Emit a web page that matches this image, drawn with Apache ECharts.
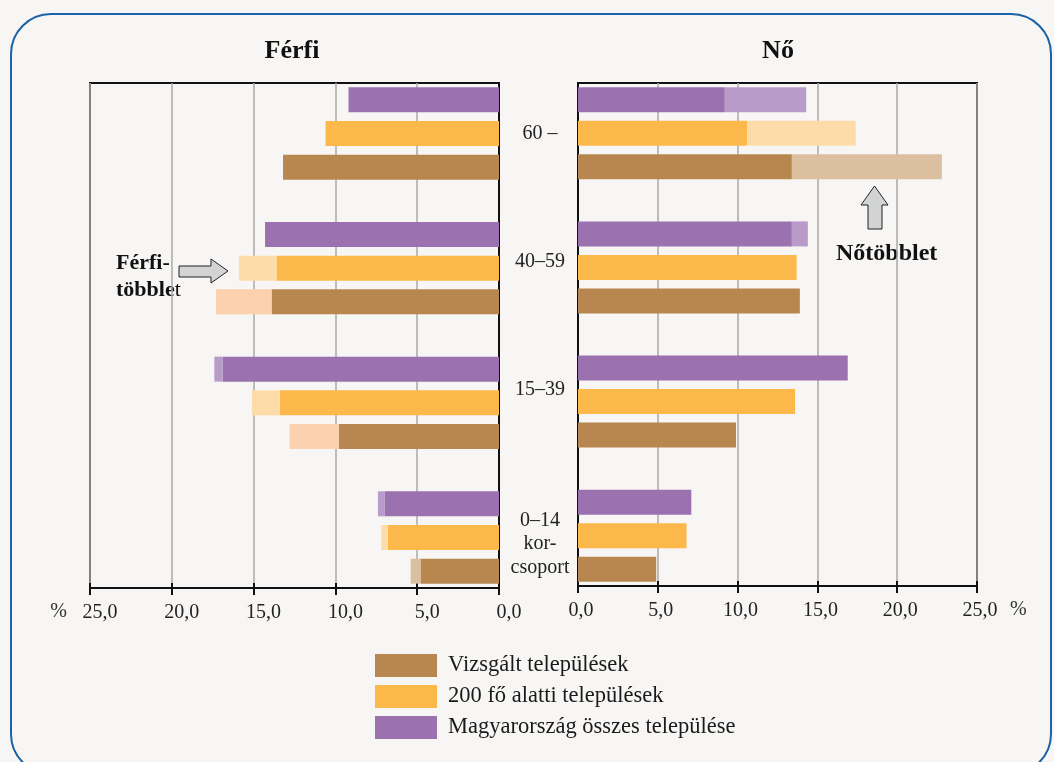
<!DOCTYPE html>
<html><head><meta charset="utf-8">
<script src="https://cdn.jsdelivr.net/npm/echarts@6/dist/echarts.min.js"></script>
<style>html,body{margin:0;padding:0;background:#f7f6f4;}#c{width:1054px;height:762px;}</style>
</head><body><div id="c"></div>
<script>
// ---- data (age groups listed top to bottom) ----
const ageGroups = ['60 –', '40–59', '15–39', '0–14'];
const seriesNames = ['Magyarország összes települése', '200 fő alatti települések', 'Vizsgált települések'];
const legendOrder = ['Vizsgált települések', '200 fő alatti települések', 'Magyarország összes települése'];
const xTickValues = [0, 5, 10, 15, 20, 25];

// Férfi (male): base part and surplus part (%)
const maleOrszag = [9.2, 14.3, 16.9, 7.0];
const maleOrszagExcess = [0, 0, 0.5, 0.4];
const maleAlatti = [10.6, 13.6, 13.4, 6.8];
const maleAlattiExcess = [0, 2.3, 1.7, 0.4];
const maleVizsgalt = [13.2, 13.9, 9.8, 4.8];
const maleVizsgaltExcess = [0, 3.4, 3.0, 0.6];

// Nő (female)
const femaleOrszag = [9.2, 13.4, 16.9, 7.1];
const femaleOrszagExcess = [5.1, 1.0, 0, 0];
const femaleAlatti = [10.6, 13.7, 13.6, 6.8];
const femaleAlattiExcess = [6.8, 0, 0, 0];
const femaleVizsgalt = [13.4, 13.9, 9.9, 4.9];
const femaleVizsgaltExcess = [9.4, 0, 0, 0];

// ---- styling ----
const FONT = "'Liberation Serif', 'DejaVu Serif', serif";
const baseColors = ['#9b71b0', '#fdb84b', '#b8864f'];
const excessColors = ['#b99bca', '#fedca9', '#dcbf9f'];
const peach = '#fcd1af';

// rows: each age group has 3 rows (one per series) + 1 spacer row
const ROWS = ageGroups.length * 4 - 1;
const rowIds = Array.from({length: ROWS}, (_, i) => 'r' + i);
function toRows(values, t) {
  const arr = new Array(ROWS).fill(null);
  values.forEach((v, g) => { arr[g * 4 + t] = v ? v : null; });
  return arr;
}

const male = [[maleOrszag, maleOrszagExcess], [maleAlatti, maleAlattiExcess], [maleVizsgalt, maleVizsgaltExcess]];
const female = [[femaleOrszag, femaleOrszagExcess], [femaleAlatti, femaleAlattiExcess], [femaleVizsgalt, femaleVizsgaltExcess]];

function panelSeries(sets, idx, stack) {
  const out = [];
  sets.forEach((pair, t) => {
    out.push({
      type: 'bar', name: seriesNames[t], xAxisIndex: idx * 2, yAxisIndex: idx, stack: stack,
      barWidth: 25, data: toRows(pair[0], t), itemStyle: {color: baseColors[t]}, silent: true
    });
    out.push({
      type: 'bar', name: seriesNames[t] + ' (többlet)', xAxisIndex: idx * 2, yAxisIndex: idx, stack: stack,
      barWidth: 25, data: toRows(pair[1], t), silent: true,
      itemStyle: {
        color: (t === 2 && idx === 0)
          ? (p => (Math.floor(p.dataIndex / 4) === ageGroups.length - 1 ? excessColors[2] : peach))
          : excessColors[t]
      }
    });
  });
  return out;
}

const fmt = v => v.toFixed(1).replace('.', ',');
function xAxes(gridIndex, inverse, labelPad, nameGap) {
  return [{
    gridIndex, type: 'value', inverse, min: 0, max: 25, interval: 5, position: 'bottom',
    axisLine: {show: true, lineStyle: {color: '#111', width: 2}},
    axisTick: {show: true, length: 7, lineStyle: {color: '#111', width: 2}},
    splitLine: {show: true, lineStyle: {color: '#a9a9a9', width: 1.5}},
    axisLabel: {formatter: fmt, margin: 15, fontSize: 20, fontFamily: FONT, color: '#222', padding: [0, 0, 0, labelPad]},
    name: '%', nameLocation: 'end', nameGap: nameGap,
    nameTextStyle: {fontSize: 20, fontFamily: FONT, color: '#333', verticalAlign: 'top', padding: [14, 0, 0, 0]}
  }, {
    gridIndex, type: 'value', inverse, min: 0, max: 25, interval: 5, position: 'bottom',
    axisLine: {show: false}, splitLine: {show: false}, axisLabel: {show: false},
    axisTick: {show: true, inside: true, length: 5, lineStyle: {color: '#111', width: 2}}
  }];
}

const labelRich = {
  a: {fontSize: 20, fontFamily: FONT, color: '#222', lineHeight: 23},
  b: {fontSize: 20, fontFamily: FONT, color: '#222', lineHeight: 23, padding: [0, 0, 11, 0]},
  c: {fontSize: 20, fontFamily: FONT, color: '#222', lineHeight: 23, padding: [0, 0, 24, 0]},
  s: {fontSize: 2, fontFamily: FONT, color: 'rgba(0,0,0,0)', lineHeight: 17},
  e: {fontSize: 20, fontFamily: FONT, color: '#222', lineHeight: 23.5}
};
const labelKeys = ['a', 'b', 'c'];
function rowLabel(value, index) {
  if (index % 4 !== 1) return '';
  const g = (index - 1) / 4;
  if (g === ageGroups.length - 1) return '{s| }\n{e|' + ageGroups[g] + '}\n{e|kor-}\n{e|csoport}';
  return '{' + labelKeys[g] + '|' + ageGroups[g] + '}';
}

const option = {
  backgroundColor: '#f7f6f4',
  animation: false,
  title: [
    {text: 'Férfi', left: 292, top: 38, textAlign: 'center', padding: 0, textStyle: {fontFamily: FONT, fontSize: 26, fontWeight: 'bold', color: '#111'}},
    {text: 'Nő', left: 778, top: 38, textAlign: 'center', padding: 0, textStyle: {fontFamily: FONT, fontSize: 26, fontWeight: 'bold', color: '#111'}}
  ],
  legend: {
    data: legendOrder, orient: 'vertical', left: 375, top: 654, padding: 0,
    itemWidth: 62, itemHeight: 23, itemGap: 8, icon: 'rect', selectedMode: false,
    textStyle: {fontFamily: FONT, fontSize: 22.5, color: '#1a1a1a', padding: [0, 0, 0, 6]}
  },
  grid: [
    {left: 90, top: 83, width: 409, height: 505, show: true, borderColor: '#111', borderWidth: 2, backgroundColor: 'transparent'},
    {left: 578, top: 83, width: 399, height: 503, show: true, borderColor: '#111', borderWidth: 2, backgroundColor: 'transparent'}
  ],
  xAxis: [...xAxes(0, true, 20, 23), ...xAxes(1, false, 6, 33)],
  yAxis: [
    {gridIndex: 0, type: 'category', data: rowIds, inverse: true, position: 'right',
     axisLine: {show: true, lineStyle: {color: '#111', width: 2}}, axisTick: {show: false}, axisLabel: {show: false}},
    {gridIndex: 1, type: 'category', data: rowIds, inverse: true, position: 'left',
     axisLine: {show: true, lineStyle: {color: '#111', width: 2}}, axisTick: {show: false},
     axisLabel: {interval: 0, formatter: rowLabel, align: 'center', margin: 38, rich: labelRich}}
  ],
  series: [...panelSeries(male, 0, 'male'), ...panelSeries(female, 1, 'female')],
  graphic: [
    {type: 'rect', shape: {x: 11, y: 14, width: 1040, height: 760, r: 40}, style: {fill: 'none', stroke: '#1c62a6', lineWidth: 2}, silent: true, z: -1},
    {type: 'polygon', shape: {points: [[179, 266], [211, 266], [211, 259], [228, 271], [211, 283], [211, 277], [179, 277]]},
     style: {fill: '#d1d3d5', stroke: '#222', lineWidth: 1}, silent: true},
    {type: 'polygon', shape: {points: [[868, 229], [868, 205], [861, 205], [874.5, 186], [888, 205], [882, 205], [882, 229]]},
     style: {fill: '#d1d3d5', stroke: '#222', lineWidth: 1}, silent: true},
    {type: 'text', x: 116, y: 250, silent: true,
     style: {text: '{b|Férfi-}\n{b|többle}{n|t}', fill: '#111',
       rich: {b: {fontFamily: FONT, fontSize: 22, fontWeight: 'bold', lineHeight: 27, fill: '#111'},
              n: {fontFamily: FONT, fontSize: 22, fontWeight: 'normal', lineHeight: 27, fill: '#111'}}}},
    {type: 'text', x: 836, y: 254, silent: true,
     style: {text: 'Nőtöbblet', fill: '#111', font: 'bold 24px ' + FONT, verticalAlign: 'middle', align: 'left'}}
  ]
};
echarts.init(document.getElementById('c')).setOption(option);
</script></body></html>
